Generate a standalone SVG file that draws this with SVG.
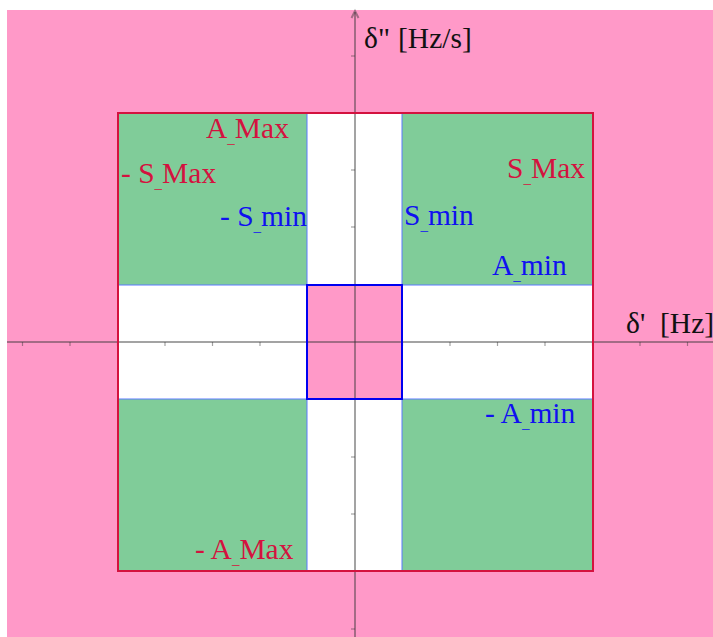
<svg xmlns="http://www.w3.org/2000/svg" width="713" height="637" viewBox="0 0 713 637">
<style>
.lbl{font-family:"Liberation Serif","Times New Roman",Times,serif;font-size:29.5px}
.red{fill:#d4123f}
.blue{fill:#1010f0}
.ax{fill:#111}
.sub{font-size:15px}
.thin{stroke:#5a78ff;stroke-width:1;fill:none}
.axis{stroke:#333;stroke-opacity:0.45;stroke-width:2;fill:none}
.tick{stroke:#333;stroke-opacity:0.45;stroke-width:1.2}
</style>
<rect width="713" height="637" fill="#fff"/>
<rect id="plane" x="7" y="10" width="706" height="627" fill="#ff99c8"/>
<g id="green-regions" fill="#80cc99">
<rect x="118" y="113" width="189" height="172"/>
<rect x="402" y="113" width="191" height="172"/>
<rect x="118" y="399" width="189" height="172"/>
<rect x="402" y="399" width="191" height="172"/>
</g>
<g id="white-strips" fill="#fff">
<rect x="307" y="113" width="95" height="458"/>
<rect x="118" y="285" width="475" height="114"/>
</g>
<g id="center">
<rect x="307" y="285" width="95" height="114" fill="#ff99c8"/>
</g>
<g id="connectors">
<line class="thin" x1="307" y1="113" x2="307" y2="571"/>
<line class="thin" x1="402" y1="113" x2="402" y2="571"/>
<line class="thin" x1="118" y1="285" x2="593" y2="285"/>
<line class="thin" x1="118" y1="399" x2="593" y2="399"/>
<line class="axis" x1="355" y1="12" x2="355" y2="637"/>
<path class="axis" d="M351.5 18 L355 11 L358.5 18" stroke-width="1.2"/>
<line class="axis" x1="7" y1="342" x2="713" y2="342"/>
<g class="tick">
<line x1="351" y1="56" x2="355" y2="56"/>
<line x1="351" y1="113" x2="355" y2="113"/>
<line x1="351" y1="170" x2="355" y2="170"/>
<line x1="351" y1="227" x2="355" y2="227"/>
<line x1="351" y1="285" x2="355" y2="285"/>
<line x1="351" y1="399" x2="355" y2="399"/>
<line x1="351" y1="457" x2="355" y2="457"/>
<line x1="351" y1="514" x2="355" y2="514"/>
<line x1="351" y1="571" x2="355" y2="571"/>
<line x1="351" y1="629" x2="355" y2="629"/>
<line x1="22.5" y1="342" x2="22.5" y2="346"/>
<line x1="70" y1="342" x2="70" y2="346"/>
<line x1="117.5" y1="342" x2="117.5" y2="346"/>
<line x1="165" y1="342" x2="165" y2="346"/>
<line x1="212.5" y1="342" x2="212.5" y2="346"/>
<line x1="260" y1="342" x2="260" y2="346"/>
<line x1="307.5" y1="342" x2="307.5" y2="346"/>
<line x1="402.5" y1="342" x2="402.5" y2="346"/>
<line x1="450" y1="342" x2="450" y2="346"/>
<line x1="497.5" y1="342" x2="497.5" y2="346"/>
<line x1="545" y1="342" x2="545" y2="346"/>
<line x1="592.5" y1="342" x2="592.5" y2="346"/>
<line x1="640" y1="342" x2="640" y2="346"/>
<line x1="687.5" y1="342" x2="687.5" y2="346"/>
</g>
<rect x="307" y="285" width="95" height="114" fill="none" stroke="#0000f0" stroke-width="2"/>
<rect x="118" y="113" width="475" height="458" fill="none" stroke="#d4123f" stroke-width="2"/>
</g>
<g id="labels">
<text id="l-amax" class="lbl red" x="206" y="138">A<tspan class="sub" dy="5">_</tspan><tspan dy="-5">Max</tspan></text>
<text id="l-nsmax" class="lbl red" x="121" y="183">- S<tspan class="sub" dy="5">_</tspan><tspan dy="-5">Max</tspan></text>
<text id="l-nsmin" class="lbl blue" x="220" y="226">- S<tspan class="sub" dy="5">_</tspan><tspan dy="-5">min</tspan></text>
<text id="l-smax" class="lbl red" x="507" y="178">S<tspan class="sub" dy="5">_</tspan><tspan dy="-5">Max</tspan></text>
<text id="l-smin" class="lbl blue" x="404" y="225">S<tspan class="sub" dy="5">_</tspan><tspan dy="-5">min</tspan></text>
<text id="l-amin" class="lbl blue" x="492" y="275">A<tspan class="sub" dy="5">_</tspan><tspan dy="-5">min</tspan></text>
<text id="l-namin" class="lbl blue" x="485" y="423">- A<tspan class="sub" dy="5">_</tspan><tspan dy="-5">min</tspan></text>
<text id="l-namax" class="lbl red" x="195" y="559">- A<tspan class="sub" dy="5">_</tspan><tspan dy="-5">Max</tspan></text>
<text id="l-xaxis" class="lbl ax" x="626" y="333">δ'<tspan x="660">[Hz]</tspan></text>
<text id="l-yaxis" class="lbl ax" x="364" y="48">δ"<tspan x="398">[Hz/s]</tspan></text>
</g>
</svg>
